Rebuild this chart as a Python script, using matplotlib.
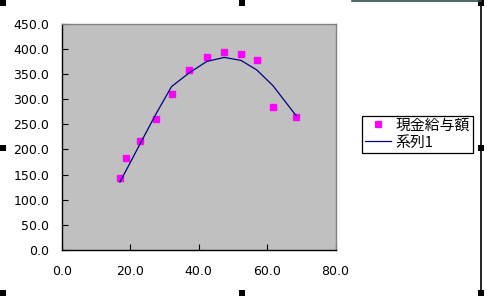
import matplotlib
matplotlib.use("Agg")
import matplotlib.pyplot as plt
from matplotlib.patches import Rectangle
from matplotlib.lines import Line2D

# observed points (現金給与額)
x_obs = [17.0, 18.8, 22.9, 27.5, 32.1, 37.2, 42.4, 47.5, 52.4, 57.0, 61.7, 68.5]
y_obs = [143, 182, 217, 261, 311, 358, 384, 394, 390, 378, 285, 265]
# fitted curve (系列1), read at the same x values
y_fit = [135, 158, 211, 270, 325, 352, 375, 383, 377, 358, 327, 267]

x_ticks = [0, 20, 40, 60, 80]
y_ticks = [0, 50, 100, 150, 200, 250, 300, 350, 400, 450]

W, H = 487, 296
fig = plt.figure(figsize=(W / 100, H / 100), dpi=100)
fig.patch.set_facecolor("white")

ax = fig.add_axes([61.7 / W, 1 - 250 / H, (335.5 - 61.7) / W, (250 - 23.7) / H])
ax.set_facecolor("#c0c0c0")

ax.plot(x_obs, y_obs, linestyle="none", marker="s", markersize=5,
        color="#ff00ff", label="現金給与額")
ax.plot(x_obs, y_fit, color="#000080", linewidth=0.9, label="系列1")

ax.set_xlim(0, 80)
ax.set_ylim(0, 450)
ax.set_xticks(x_ticks)
ax.set_yticks(y_ticks)
ax.set_xticklabels([f"{v:.1f}" for v in x_ticks])
ax.set_yticklabels([f"{v:.1f}" for v in y_ticks])
ax.tick_params(direction="in", length=4, width=0.8, labelsize=9, colors="black")
ax.tick_params(axis="x", pad=11)
ax.tick_params(axis="y", pad=9)
ax.tick_params(top=False, right=False)

for side in ("left", "bottom"):
    ax.spines[side].set_color("black")
    ax.spines[side].set_linewidth(1.0)
for side in ("top", "right"):
    ax.spines[side].set_color("#808080")
    ax.spines[side].set_linewidth(1.0)

leg = ax.legend(loc="upper left", bbox_to_anchor=(361.7 / W, 1 - 115.7 / H),
                bbox_transform=fig.transFigure, frameon=True, fancybox=False,
                prop={"family": ["Noto Sans CJK JP", "DejaVu Sans"], "size": 10.7},
                handlelength=1.8, handletextpad=0.3, labelspacing=0.2,
                borderpad=0.2, borderaxespad=0, markerscale=1.0)
leg.get_frame().set_edgecolor("black")
leg.get_frame().set_linewidth(0.9)
leg.get_frame().set_facecolor("white")
leg.get_frame().set_alpha(1)

# spreadsheet border lines and selection handles
fig.add_artist(Line2D([481 / W, 481 / W], [0, 1], transform=fig.transFigure,
                      color="black", linewidth=1.2))
fig.add_artist(Line2D([352 / W, 481 / W], [1 - 0.5 / H, 1 - 0.5 / H],
                      transform=fig.transFigure, color="#2f4f4f", linewidth=1.2))
handles = [(0, 0), (239, 0), (478, 0), (0, 145), (478, 145),
           (0, 290), (239, 290), (478, 290)]
for hx, hy in handles:
    fig.add_artist(Rectangle((hx / W, 1 - (hy + 6) / H), 6 / W, 6 / H,
                             transform=fig.transFigure, facecolor="black",
                             edgecolor="none"))

fig.savefig("out.png", dpi=100)
